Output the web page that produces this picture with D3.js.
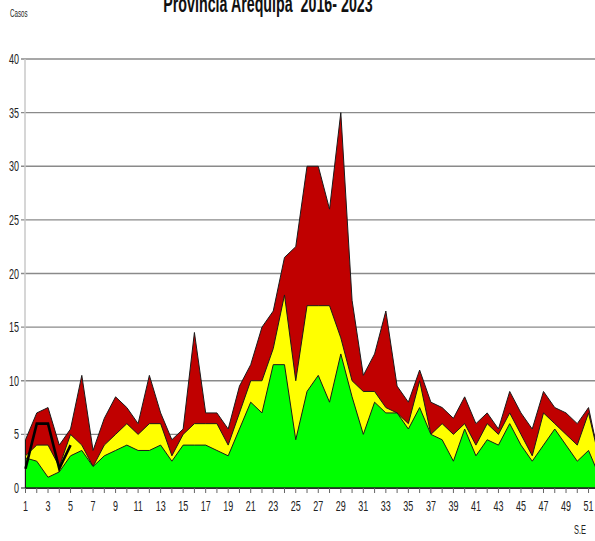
<!DOCTYPE html>
<html>
<head>
<meta charset="utf-8">
<script src="https://cdn.jsdelivr.net/npm/d3@7"></script>
<style>
  html, body { margin: 0; padding: 0; background: #fff; }
  svg { display: block; }
  text { font-family: "Liberation Sans", Arial, sans-serif; fill: #222; white-space: pre; }
</style>
</head>
<body>
<svg id="chart" width="595" height="541"></svg>
<script>
// ---- data ----
const weeks = d3.range(1, 53);
const xTickLabels = d3.range(1, 52, 2);
const yTicks = [0, 5, 10, 15, 20, 25, 30, 35, 40];
// upper limit of the alarm zone (red)
const alarma = [4.5, 7, 7.5, 4, 5.5, 10.5, 3.5, 6.5, 8.5, 7.5, 6, 10.5, 7, 4.5, 5.5, 14.5, 7, 7, 5.5, 9.5,
  11.5, 15, 16.5, 21.5, 22.5, 30, 30, 26, 35, 17.5, 10.5, 12.5, 16.5, 9.5, 8, 11, 8, 7.5, 6.5, 8.5,
  6, 7, 5.5, 9, 7, 5.5, 9, 7.5, 7, 6, 7.5, 2.5];
// upper limit of the security zone (yellow)
const seguridad = [3, 4, 4, 2, 5, 4, 2, 4, 5, 6, 5, 6, 6, 3, 5, 6, 6, 6, 4, 7,
  10, 10, 13, 18, 10, 17, 17, 17, 14, 10, 9, 9, 7.5, 7, 6, 10, 5, 6, 5, 6,
  4, 6, 5, 7, 5, 3, 7, 6, 5, 4, 7, 2.5];
// upper limit of the success zone (green)
const exito = [2.8, 2.5, 1, 1.5, 3, 3.5, 2, 3, 3.5, 4, 3.5, 3.5, 4, 2.5, 4, 4, 4, 3.5, 3, 5.5,
  8, 7, 11.5, 11.5, 4.5, 9, 10.5, 8, 12.5, 8.5, 5, 8, 7, 7, 5.5, 7.5, 5, 4.5, 2.5, 5.5,
  3, 4.5, 4, 6, 4, 2.5, 4, 5.5, 4, 2.5, 3.5, 1];
// current year cases
const actual = [1.8, 6, 6, 1.8, 4];

const title = "Provincia Arequipa  2016- 2023";

// ---- layout ----
const svg = d3.select("#chart");
const x = d3.scaleLinear().domain([1, 52]).range([25.5, 599.8]);
const y = d3.scaleLinear().domain([0, 40]).range([488, 59]);
const SX = 0.62; // horizontal compression of the text

function ctext(g, tx, ty, str, size, anchor, weight) {
  return g.append("text")
    .attr("transform", `translate(${tx},${ty}) scale(${SX},1)`)
    .attr("text-anchor", anchor || "middle")
    .attr("xml:space", "preserve")
    .style("font-size", size + "px")
    .style("font-weight", weight || "normal")
    .text(str);
}

// gridlines + y ticks
const grid = svg.append("g");
yTicks.forEach(t => {
  if (t === 0) return;
  grid.append("line")
    .attr("x1", 21).attr("x2", 595)
    .attr("y1", y(t)).attr("y2", y(t))
    .attr("stroke", "#8a8a8a").attr("stroke-width", 1.4);
});
// y axis line
svg.append("line").attr("x1", 25).attr("x2", 25).attr("y1", y(40)).attr("y2", y(0))
  .attr("stroke", "#c8c8c8").attr("stroke-width", 1.5);

// areas
const area = vals => d3.area().x((d, i) => x(weeks[i])).y0(y(0)).y1(d => y(d))(vals);
const series = [
  { vals: alarma, color: "#c00000" },
  { vals: seguridad, color: "#ffff00" },
  { vals: exito, color: "#00ff00" }
];
series.forEach(s => {
  svg.append("path").attr("d", area(s.vals))
    .attr("fill", s.color).attr("stroke", "#1a1a1a").attr("stroke-width", 1)
    .attr("stroke-linejoin", "round");
});

// current year line
svg.append("path")
  .attr("d", d3.line().x((d, i) => x(weeks[i])).y(d => y(d))(actual))
  .attr("fill", "none").attr("stroke", "#000").attr("stroke-width", 2.6)
  .attr("stroke-linejoin", "miter");

// x axis baseline and ticks
svg.append("line").attr("x1", 21).attr("x2", 595).attr("y1", y(0)).attr("y2", y(0))
  .attr("stroke", "#222").attr("stroke-width", 1.2);
weeks.forEach(w => {
  svg.append("line").attr("x1", x(w)).attr("x2", x(w)).attr("y1", y(0)).attr("y2", y(0) + 5)
    .attr("stroke", "#666").attr("stroke-width", 1);
});
xTickLabels.forEach(w => ctext(svg, x(w), 511, String(w), 14.5, "middle"));
yTicks.forEach(t => ctext(svg, 19, y(t) + 5, String(t), 14.5, "end"));

// labels
ctext(svg, 10, 17, "Casos", 10, "start");
ctext(svg, 580, 534, "S.E", 12, "middle");
ctext(svg, 268, 12, title, 23, "middle", "bold").style("fill", "#111");
</script>
</body>
</html>
